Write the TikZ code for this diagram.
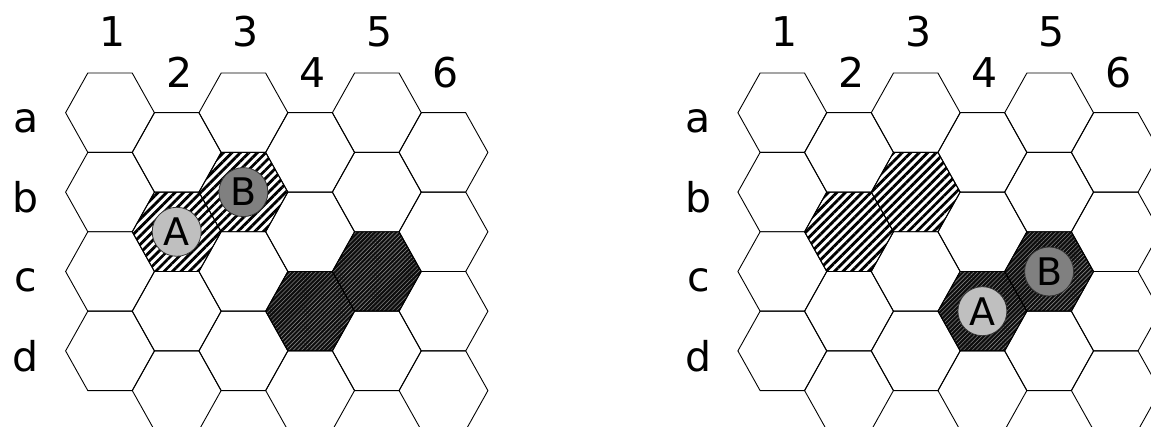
\documentclass[tikz,border=0pt]{standalone}
\usepackage{fontspec}
\setmainfont{DejaVu Sans}
\usetikzlibrary{patterns.meta}
\newcommand\hexat[3]{\path[#1,shift={(#2,#3)}] (44.4,0) -- (22.2,-39.7) -- (-22.2,-39.7) -- (-44.4,0) -- (-22.2,39.7) -- (22.2,39.7) -- cycle;}
\tikzset{
  hexline/.style={draw=black,line width=0.9pt,line join=miter},
  striped/.style={pattern={Lines[angle=45,distance=6pt,line width=2.8pt]},pattern color=black},
  darkbase/.style={fill=black!95},
  darklines/.style={pattern={Lines[angle=45,distance=3pt,line width=0.6pt]},pattern color=black!50},
  stone/.style={circle,draw=black!80,line width=0.8pt,minimum size=49pt,inner sep=0pt,font=\fontsize{38}{40}\selectfont},
  stoneA/.style={stone,fill=black!25},
  stoneB/.style={stone,fill=black!50},
  lab/.style={anchor=base,inner sep=0pt,font=\fontsize{41}{43}\selectfont}
}
\begin{document}
\begin{tikzpicture}[x=1pt,y=-1pt]
\useasboundingbox (0,0) rectangle (1151,427);
% special cells
\foreach \ox in {0,672.3}{
  \hexat{striped}{\ox+176.7}{231.8}
  \hexat{striped}{\ox+243.4}{192.1}
  \hexat{darkbase}{\ox+310.1}{311.2}
  \hexat{darklines}{\ox+310.1}{311.2}
  \hexat{darkbase}{\ox+376.8}{271.5}
  \hexat{darklines}{\ox+376.8}{271.5}
}
% grid
\foreach \ox in {0,672.3}{
  \foreach \c in {1,...,6}{
    \foreach \r in {0,...,3}{
      \pgfmathsetmacro\cx{\ox+110+66.7*(\c-1)}
      \pgfmathsetmacro\cy{112.7+79.4*\r+39.7*(1-mod(\c,2))}
      \hexat{hexline}{\cx}{\cy}
    }
  }
}
% labels
\foreach \p/\ox in {1/0,2/672.3}{
  \foreach \c in {1,...,6}{
    \pgfmathsetmacro\lx{\ox+112.5+66.7*(\c-1)}
    \pgfmathsetmacro\ly{46.7+40.6*(1-mod(\c,2))}
    \node[lab] (col\p\c) at (\lx,\ly) {\c};
  }
  \foreach \r/\t in {0/a,1/b,2/c,3/d}{
    \pgfmathsetmacro\ry{133+79.4*\r}
    \node[lab] (row\p\t) at (\ox+26,\ry) {\t};
  }
}
% stones
\node[stoneA] (A1) at (176.7,231.8) {A};
\node[stoneB] (B1) at (243.4,192.1) {B};
\node[stoneA] (A2) at (982.4,311.2) {A};
\node[stoneB] (B2) at (1049.1,271.5) {B};
\end{tikzpicture}
\end{document}
